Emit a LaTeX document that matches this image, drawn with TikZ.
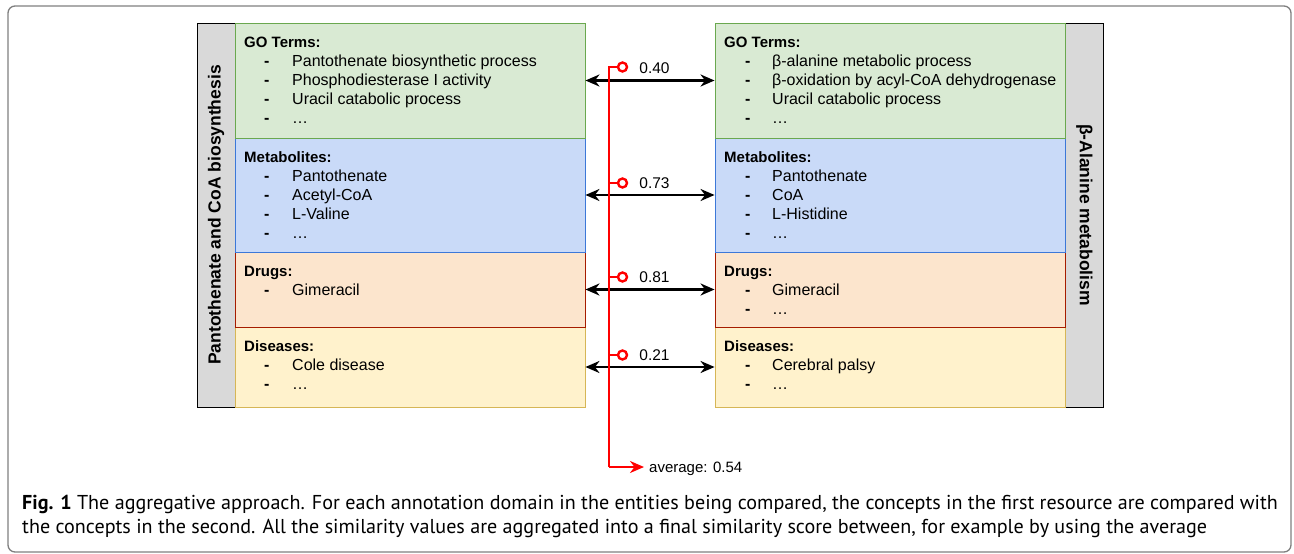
\documentclass[tikz,border=0pt]{standalone}
\usepackage{fontspec}
\setmainfont{Liberation Sans}
\newfontfamily\capfont{PT Sans}
\usetikzlibrary{arrows.meta}

\definecolor{goFill}{HTML}{D9EAD3}
\definecolor{goLine}{HTML}{6AA84F}
\definecolor{metFill}{HTML}{C9DAF8}
\definecolor{metLine}{HTML}{3C78D8}
\definecolor{drugFill}{HTML}{FCE5CD}
\definecolor{drugLine}{HTML}{A61C00}
\definecolor{disFill}{HTML}{FFF2CC}
\definecolor{disLine}{HTML}{D6B656}
\definecolor{barFill}{HTML}{D9D9D9}
\definecolor{frameGray}{HTML}{7F7F7F}

\tikzset{
  box/.style={draw, line width=0.9pt, minimum width=350pt, inner sep=0pt},
  bar/.style={draw=black, fill=barFill, line width=0.9pt, minimum width=38pt,
    minimum height=384pt, inner sep=0pt},
  head/.style={anchor=west, font=\fontsize{15}{17}\selectfont\bfseries,
    inner sep=0pt, text height=10.8pt, text depth=0pt},
  item/.style={anchor=west, font=\fontsize{16}{18}\selectfont,
    inner sep=0pt, text height=11.2pt, text depth=0pt},
  bul/.style={item, font=\fontsize{16}{18}\selectfont\bfseries},
  biarrow/.style={{Stealth[length=14pt,width=12pt,inset=4.5pt]}-{Stealth[length=14pt,width=12pt,inset=4.5pt]}, line width=2.6pt},
  redline/.style={draw=red, line width=2.6pt},
  knob/.style={circle, draw=red, fill=white, line width=2.4pt, minimum size=9pt, inner sep=0pt},
  val/.style={font=\fontsize{15.5}{18}\selectfont, inner sep=0pt, text height=11pt, text depth=0pt}
}

\begin{document}
\begin{tikzpicture}[x=1pt,y=-1pt]
\useasboundingbox (0,0) rectangle (1294,554);
\draw[frameGray, line width=1.3pt, rounded corners=7pt] (8,6) rectangle (1291,552);

% side bars
\node[bar] (lbar) at (216,215) {};
\node[bar] (rbar) at (1084.5,215) {};
\node[rotate=90, font=\fontsize{17.5}{20}\selectfont\bfseries] at (lbar) {Pantothenate and CoA biosynthesis};
\node[rotate=-90, font=\fontsize{17.5}{20}\selectfont\bfseries] at (rbar) {β-Alanine metabolism};

% left resource (bottom up, so upper borders stay on top)
\node[box, fill=disFill, draw=disLine, minimum height=80pt] (ldis) at (410,367) {};
\node[box, fill=drugFill, draw=drugLine, minimum height=75pt] (ldrug) at (410,289.5) {};
\node[box, fill=metFill, draw=metLine, minimum height=114pt] (lmet) at (410,195) {};
\node[box, fill=goFill, draw=goLine, minimum height=115pt] (lgo) at (410,80.5) {};

% right resource
\node[box, fill=disFill, draw=disLine, minimum height=80pt] (rdis) at (890,367) {};
\node[box, fill=drugFill, draw=drugLine, minimum height=75pt] (rdrug) at (890,289.5) {};
\node[box, fill=metFill, draw=metLine, minimum height=114pt] (rmet) at (890,195) {};
\node[box, fill=goFill, draw=goLine, minimum height=115pt] (rgo) at (890,80.5) {};

% left lists
\node[head] at (244,42) {GO Terms:};
\foreach \txt [count=\i] in {Pantothenate biosynthetic process, Phosphodiesterase I activity, Uracil catabolic process, …}
  {\node[bul] at (264,42+19*\i) {-}; \node[item] at (292,42+19*\i) {\txt};}
\node[head] at (244,157) {Metabolites:};
\foreach \txt [count=\i] in {Pantothenate, Acetyl-CoA, L-Valine, …}
  {\node[bul] at (264,157+19*\i) {-}; \node[item] at (292,157+19*\i) {\txt};}
\node[head] at (244,271) {Drugs:};
\foreach \txt [count=\i] in {Gimeracil}
  {\node[bul] at (264,271+19*\i) {-}; \node[item] at (292,271+19*\i) {\txt};}
\node[head] at (244,346) {Diseases:};
\foreach \txt [count=\i] in {Cole disease, …}
  {\node[bul] at (264,346+19*\i) {-}; \node[item] at (292,346+19*\i) {\txt};}

% right lists
\node[head] at (724,42) {GO Terms:};
\foreach \txt [count=\i] in {β-alanine metabolic process, β-oxidation by acyl-CoA dehydrogenase, Uracil catabolic process, …}
  {\node[bul] at (745,42+19*\i) {-}; \node[item] at (772,42+19*\i) {\txt};}
\node[head] at (724,157) {Metabolites:};
\foreach \txt [count=\i] in {Pantothenate, CoA, L-Histidine, …}
  {\node[bul] at (745,157+19*\i) {-}; \node[item] at (772,157+19*\i) {\txt};}
\node[head] at (724,271) {Drugs:};
\foreach \txt [count=\i] in {Gimeracil, …}
  {\node[bul] at (745,271+19*\i) {-}; \node[item] at (772,271+19*\i) {\txt};}
\node[head] at (724,346) {Diseases:};
\foreach \txt [count=\i] in {Cerebral palsy, …}
  {\node[bul] at (745,346+19*\i) {-}; \node[item] at (772,346+19*\i) {\txt};}

% similarity per domain
\draw[biarrow] (lgo) -- (rgo);
\draw[biarrow] (lmet) -- (rmet);
\draw[biarrow] (ldrug) -- (rdrug);
\draw[biarrow] (ldis) -- (rdis);

\node[val] (v1) at (654.5,68) {0.40};
\node[val] (v2) at (654.5,183) {0.73};
\node[val] (v3) at (654.5,277) {0.81};
\node[val] (v4) at (654.5,355) {0.21};

% aggregation
\coordinate (rtop) at (609,67);
\coordinate (rbot) at (609,467);
\node[item, font=\fontsize{15}{17}\selectfont] (avg) at (649,467) {average: 0.54};
\node[knob] (k1) at (622.5,67) {};
\node[knob] (k2) at (622.5,183) {};
\node[knob] (k3) at (622.5,277) {};
\node[knob] (k4) at (622.5,355) {};
\draw[redline] (k1) -- (rtop) -- (rbot);
\draw[redline] (k2) -- (k2 -| rtop);
\draw[redline] (k3) -- (k3 -| rtop);
\draw[redline] (k4) -- (k4 -| rtop);
\draw[redline, -{Stealth[length=14pt,width=12pt,inset=4.5pt]}] (rbot) -- ([xshift=-5pt]avg.west);

% caption
\node[anchor=base west, inner sep=0pt, font=\capfont\fontsize{20.1}{24}\selectfont] (cap1) at (22,509)
  {\textbf{Fig. 1} The aggregative approach. For each annotation domain in the entities being compared, the concepts in the first resource are compared with};
\node[anchor=base west, inner sep=0pt, font=\capfont\fontsize{20.1}{24}\selectfont] (cap2) at (22,533)
  {the concepts in the second. All the similarity values are aggregated into a final similarity score between, for example by using the average};
\end{tikzpicture}
\end{document}
